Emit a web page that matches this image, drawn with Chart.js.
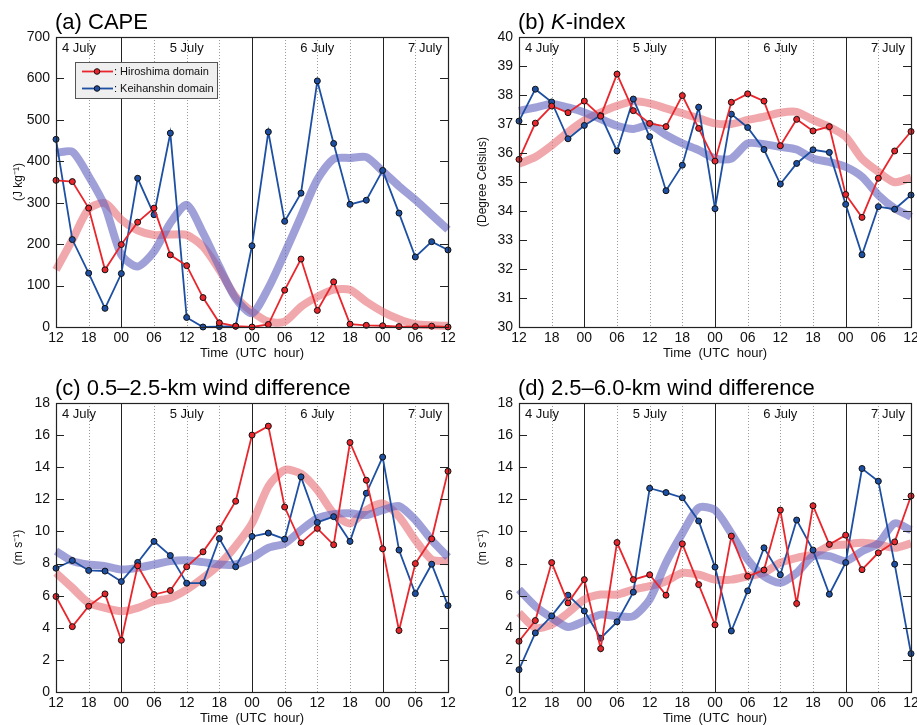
<!DOCTYPE html>
<html><head><meta charset="utf-8">
<script src="https://cdn.jsdelivr.net/npm/chart.js"></script>
<style>
html,body{margin:0;padding:0;background:#fff;overflow:hidden;width:917px;height:725px;position:relative}
canvas{position:absolute}
</style></head>
<body>
<canvas id="ca" width="460" height="362" style="left:0;top:0"></canvas>
<canvas id="cb" width="465" height="362" style="left:460px;top:0"></canvas>
<canvas id="cc" width="460" height="362" style="left:0;top:365px"></canvas>
<canvas id="cd" width="465" height="362" style="left:460px;top:365px"></canvas>
<script>
// ---- data (3-hourly, 12 UTC 4 July to 12 UTC 7 July) ----
const hours = ["12","15","18","21","00","03","06","09","12","15","18","21","00","03","06","09","12","15","18","21","00","03","06","09","12"];
const days = ["4 July","5 July","6 July","7 July"];
const seriesNames = ["Hiroshima domain","Keihanshin domain"];

const capeHiroshima = [354,351,287,138,199,253,287,174,148,71,10,2,0,6,89,164,40,109,7,4,3,1,1,2,0];
const capeKeihanshin = [453,211,130,45,129,359,271,468,23,0,1,2,196,471,255,323,594,443,296,306,378,275,169,206,186];
const capeHiroshimaTrend = [138,210,285,299,259,233,222,223,222,194,138,73,37,13,13,49,73,90,90,61,37,19,7,4,3];
const capeKeihanshinTrend = [420,423,364,291,174,146,182,251,295,227,146,69,33,94,178,267,356,406,408,410,376,340,307,271,235];

const kHiroshima = [35.78,37.03,37.62,37.39,37.79,37.27,38.72,37.46,37.02,36.91,37.98,36.85,35.72,37.75,38.04,37.79,36.25,37.16,36.76,36.91,34.57,33.78,35.13,36.07,36.74];
const kKeihanshin = [37.1,38.2,37.76,36.49,36.95,37.3,36.07,37.86,36.56,34.70,35.58,37.58,34.08,37.34,36.88,36.12,34.93,35.64,36.11,36.02,34.23,32.49,34.15,34.06,34.55];
const kHiroshimaTrend = [35.63,35.86,36.26,36.72,37.12,37.4,37.63,37.78,37.71,37.54,37.37,37.2,37.02,37.0,37.14,37.25,37.39,37.42,37.14,36.9,36.56,35.8,35.35,34.99,35.15];
const kKeihanshinTrend = [37.45,37.57,37.69,37.57,37.4,37.17,36.94,36.83,36.96,36.62,36.33,36.1,35.81,35.81,36.33,36.3,36.21,36.12,35.81,35.69,35.52,35.18,34.55,34.09,33.8];

const windLowHiroshima = [5.95,4.07,5.34,6.11,3.22,7.86,6.07,6.32,7.80,8.73,10.17,11.88,16.0,16.56,11.52,9.29,10.19,9.17,15.54,13.19,8.92,3.83,8.0,9.54,13.75];
const windLowKeihanshin = [7.71,8.19,7.57,7.53,6.88,8.07,9.38,8.5,6.78,6.78,9.56,7.8,9.69,9.9,9.52,13.4,10.56,10.92,9.38,12.38,14.63,8.84,6.13,7.96,5.38];
const windLowHiroshimaTrend = [7.42,6.49,5.55,5.24,5.03,5.24,5.65,5.86,6.38,7.11,7.94,9.09,10.5,12.8,13.83,13.6,12.58,11.13,10.5,11.33,11.75,10.92,9.46,8.25,8.15];
const windLowKeihanshinTrend = [8.77,8.15,7.94,7.84,7.63,7.73,7.94,8.15,8.21,8.09,7.94,7.94,8.36,8.98,9.25,10.08,10.81,11.08,11.13,11.02,11.33,11.58,10.71,9.46,8.4];

const windMidHiroshima = [3.16,4.45,8.06,5.55,7.0,2.70,9.31,7.0,7.3,6.03,9.23,6.69,4.18,9.71,7.21,7.6,11.33,5.51,11.6,9.19,9.77,7.62,8.67,9.35,12.21];
const windMidKeihanshin = [1.39,3.68,4.74,6.03,5.05,3.35,4.37,6.22,12.69,12.42,12.1,10.65,7.78,3.8,6.3,8.98,7.3,10.71,8.84,6.09,8.06,13.92,13.13,7.96,2.39];
const windMidHiroshimaTrend = [4.93,4.0,4.2,4.93,5.76,6.07,6.07,6.38,6.59,6.9,7.42,7.31,7.0,7.0,7.21,7.42,8.05,8.36,8.57,9.09,9.19,9.29,9.19,8.98,9.25];
const windMidKeihanshinTrend = [6.38,5.34,4.62,4.05,4.41,4.82,4.72,4.72,5.76,8.05,9.88,11.48,11.33,9.88,8.25,7.21,6.8,7.42,8.46,8.46,8.15,8.77,9.25,10.5,10.08];

// ---- styling ----
const FONT = "'Liberation Sans', Arial, Helvetica, sans-serif";
const RED = '#e8262c', BLUE = '#1d4fa3';
const RED_T = 'rgba(230,110,117,0.6)', BLUE_T = 'rgba(97,97,190,0.6)';
const solidIdx = [4,12,20];
const dottedIdx = [2,6,8,10,14,16,18,22];

const panelPlugin = {
  id: 'panel',
  beforeDatasetsDraw(chart, args, o) {
    const {ctx, chartArea: a, scales: {x}} = chart;
    ctx.save();
    ctx.lineWidth = 1;
    ctx.strokeStyle = '#9a9a9a';
    ctx.setLineDash([1, 2]);
    dottedIdx.forEach(i => {
      const px = Math.round(x.getPixelForValue(i)) + 0.5;
      ctx.beginPath(); ctx.moveTo(px, a.top); ctx.lineTo(px, a.bottom); ctx.stroke();
    });
    ctx.setLineDash([]);
    ctx.strokeStyle = '#222';
    solidIdx.forEach(i => {
      const px = Math.round(x.getPixelForValue(i)) + 0.5;
      ctx.beginPath(); ctx.moveTo(px, a.top); ctx.lineTo(px, a.bottom); ctx.stroke();
    });
    // day labels
    ctx.fillStyle = '#111';
    ctx.font = '13px ' + FONT;
    ctx.textBaseline = 'middle';
    const ty = a.top + 11;
    ctx.textAlign = 'left'; ctx.fillText(days[0], a.left + 6, ty);
    ctx.textAlign = 'center';
    ctx.fillText(days[1], x.getPixelForValue(8), ty);
    ctx.fillText(days[2], x.getPixelForValue(16), ty);
    ctx.textAlign = 'right'; ctx.fillText(days[3], a.right - 6, ty);
    ctx.restore();
  },
  afterDraw(chart, args, o) {
    const {ctx, chartArea: a, scales: {y}} = chart;
    ctx.save();
    // frame
    ctx.strokeStyle = '#222'; ctx.lineWidth = 1.2;
    ctx.strokeRect(Math.round(a.left) + 0.5, Math.round(a.top) + 0.5, Math.round(a.right - a.left), Math.round(a.bottom - a.top));
    // inward ticks on both sides
    ctx.lineWidth = 1;
    y.ticks.forEach(t => {
      const py = Math.round(y.getPixelForValue(t.value)) + 0.5;
      ctx.beginPath();
      ctx.moveTo(a.left, py); ctx.lineTo(a.left + 8, py);
      ctx.moveTo(a.right - 8, py); ctx.lineTo(a.right, py);
      ctx.stroke();
    });
    // title
    ctx.fillStyle = '#000';
    ctx.textBaseline = 'middle';
    ctx.textAlign = 'left';
    let tx = a.left - 1;
    const tyy = a.top - 14;
    o.title.forEach(seg => {
      ctx.font = (seg.italic ? 'italic ' : '') + '22px ' + FONT;
      ctx.fillText(seg.t, tx, tyy);
      tx += ctx.measureText(seg.t).width;
    });
    // legend
    if (o.legend) {
      const bx = 75, by = 62, bw = 142, bh = 36;
      ctx.fillStyle = '#efefef';
      ctx.fillRect(bx, by, bw, bh);
      ctx.strokeStyle = '#555'; ctx.lineWidth = 1;
      ctx.strokeRect(bx + 0.5, by + 0.5, bw, bh);
      const rows = [[RED, seriesNames[0], 71.5], [BLUE, seriesNames[1], 88.5]];
      rows.forEach(([c, name, ry]) => {
        ctx.strokeStyle = c; ctx.lineWidth = 1.8;
        ctx.beginPath(); ctx.moveTo(82, ry); ctx.lineTo(113, ry); ctx.stroke();
        ctx.beginPath(); ctx.arc(97, ry, 2.8, 0, Math.PI * 2);
        ctx.fillStyle = c; ctx.fill();
        ctx.strokeStyle = '#111'; ctx.lineWidth = 1; ctx.stroke();
        ctx.fillStyle = '#111';
        ctx.font = '11px ' + FONT;
        ctx.fillText(': ' + name, 114, ry);
      });
    }
    ctx.restore();
  }
};

function thin(label, data, color, order) {
  return {label, data, borderColor: color, backgroundColor: color, borderWidth: 1.8,
    pointRadius: 3, pointBackgroundColor: color, pointBorderColor: '#111', pointBorderWidth: 1,
    tension: 0, order, clip: 8};
}
function thick(label, data, color, order) {
  return {label, data, borderColor: color, borderWidth: 8, pointRadius: 0, tension: 0.25,
    borderJoinStyle: 'round', borderCapStyle: 'butt', order, clip: 8};
}

function makeChart(id, cfg) {
  new Chart(document.getElementById(id), {
    type: 'line',
    data: {
      labels: hours,
      datasets: [
        thin(seriesNames[0], cfg.h, RED, 1),
        thin(seriesNames[1], cfg.k, BLUE, 2),
        thick(seriesNames[1] + ' trend', cfg.kt, BLUE_T, 3),
        thick(seriesNames[0] + ' trend', cfg.ht, RED_T, 4)
      ]
    },
    options: {
      responsive: false, animation: false, events: [],
      layout: {padding: {top: cfg.padTop, right: cfg.padRight, left: 0, bottom: 0}},
      plugins: {legend: {display: false}, tooltip: {enabled: false},
        panel: {title: cfg.title, legend: !!cfg.legend}},
      scales: {
        x: {
          type: 'category', offset: false,
          grid: {display: false, drawTicks: false, tickLength: 0}, border: {display: false},
          ticks: {autoSkip: false, maxRotation: 0, minRotation: 0, padding: 3, color: '#111',
            font: {family: FONT, size: 14},
            callback: (v, i) => (i % 2 === 0 ? hours[i] : '')},
          title: {display: true, text: 'Time  (UTC  hour)', color: '#111',
            font: {family: FONT, size: 13}, padding: {top: 0, bottom: 1}},
          afterFit: s => { s.height = 35; }
        },
        y: {
          min: cfg.min, max: cfg.max,
          grid: {display: false, drawTicks: false, tickLength: 0}, border: {display: false},
          ticks: {stepSize: cfg.step, padding: 6, color: '#111', font: {family: FONT, size: 14}},
          title: {display: true, text: cfg.yTitle, color: '#111',
            font: {family: FONT, size: 12}, padding: {top: cfg.yTitlePad, bottom: 0}},
          afterFit: s => { s.width = cfg.yWidth; }
        }
      }
    },
    plugins: [panelPlugin]
  });
}

makeChart('ca', {h: capeHiroshima, k: capeKeihanshin, ht: capeHiroshimaTrend, kt: capeKeihanshinTrend,
  min: 0, max: 700, step: 100, yTitle: '(J kg\u207B\u00B9)', yTitlePad: 11, yWidth: 56,
  padTop: 37, padRight: 12, title: [{t: '(a) CAPE'}], legend: true});
makeChart('cb', {h: kHiroshima, k: kKeihanshin, ht: kHiroshimaTrend, kt: kKeihanshinTrend,
  min: 30, max: 40, step: 1, yTitle: '(Degree Celsius)', yTitlePad: 15, yWidth: 59,
  padTop: 37, padRight: 14, title: [{t: '(b) '}, {t: 'K', italic: true}, {t: '-index'}]});
makeChart('cc', {h: windLowHiroshima, k: windLowKeihanshin, ht: windLowHiroshimaTrend, kt: windLowKeihanshinTrend,
  min: 0, max: 18, step: 2, yTitle: '(m s\u207B\u00B9)', yTitlePad: 11, yWidth: 56,
  padTop: 38, padRight: 12, title: [{t: '(c) 0.5\u20132.5-km wind difference'}]});
makeChart('cd', {h: windMidHiroshima, k: windMidKeihanshin, ht: windMidHiroshimaTrend, kt: windMidKeihanshinTrend,
  min: 0, max: 18, step: 2, yTitle: '(m s\u207B\u00B9)', yTitlePad: 15, yWidth: 59,
  padTop: 38, padRight: 14, title: [{t: '(d) 2.5\u20136.0-km wind difference'}]});
</script>
</body></html>
